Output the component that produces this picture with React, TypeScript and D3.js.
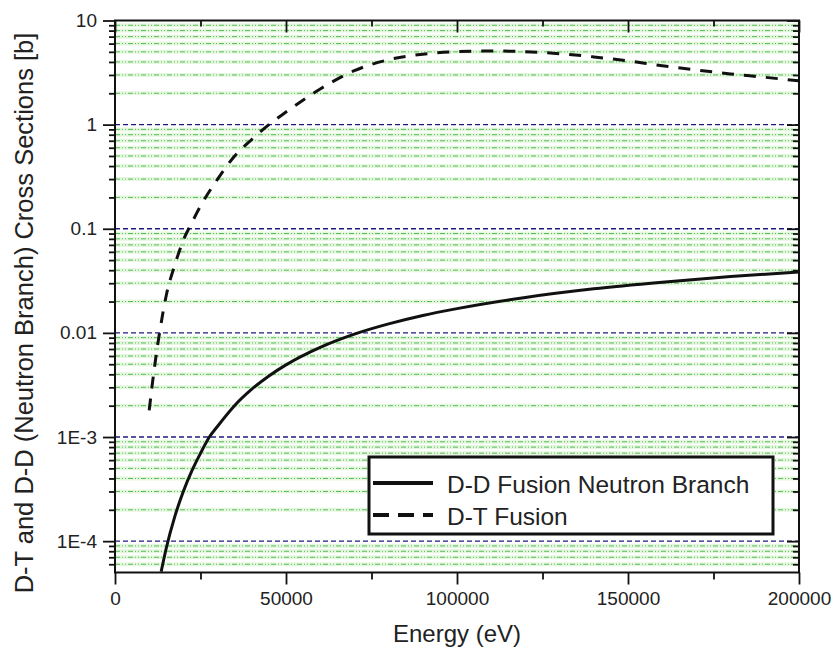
import React, { useRef, useEffect } from "react";
import * as d3 from "d3";

// D-T fusion cross section [b] vs deuteron energy [eV]
const dtEnergy = [10000, 11000, 12000, 13000, 14000, 15000, 17500, 20000, 22500, 25000, 30000, 35000, 40000, 45000, 50000, 60000, 70000, 80000, 90000, 100000, 110000, 120000, 130000, 140000, 150000, 160000, 170000, 180000, 190000, 200000];
const dtSigma = [0.0018, 0.0034, 0.006, 0.0099, 0.0155, 0.023, 0.045, 0.078, 0.115, 0.165, 0.3, 0.5, 0.72, 1.0, 1.32, 2.2, 3.3, 4.2, 4.75, 5.02, 5.1, 5.02, 4.8, 4.47, 4.1, 3.68, 3.35, 3.07, 2.85, 2.63];

// D-D fusion, neutron branch
const ddEnergy = [13500, 15000, 17500, 20000, 22500, 25000, 27500, 30000, 35000, 40000, 45000, 50000, 60000, 70000, 80000, 90000, 100000, 120000, 140000, 160000, 180000, 200000];
const ddSigma = [0.000051, 0.000086, 0.000173, 0.000302, 0.000476, 0.000698, 0.00099, 0.00127, 0.00201, 0.00288, 0.00386, 0.00493, 0.00726, 0.00973, 0.0122, 0.0147, 0.0171, 0.0219, 0.0265, 0.0307, 0.0348, 0.0385];

const xMajor = [0, 50000, 100000, 150000, 200000];
const xMinor = [25000, 75000, 125000, 175000];
const yMajor = [10, 1, 0.1, 0.01, 0.001, 0.0001];
const yLabels = ["10", "1", "0.1", "0.01", "1E-3", "1E-4"];

const legendItems = ["D-D Fusion Neutron Branch", "D-T Fusion"];

const W = 839;
const H = 656;
const m = { left: 115, right: 40, top: 20.5, bottom: 83.5 };
const FONT = "'Liberation Sans', Arial, sans-serif";

const App = () => {
  const svgRef = useRef(null);

  useEffect(() => {
    const svg = d3.select(svgRef.current);
    svg.selectAll("*").remove();

    const x = d3.scaleLinear().domain([0, 200000]).range([m.left, W - m.right]);
    const y = d3.scaleLog().domain([5e-5, 10]).range([H - m.bottom, m.top]);

    // minor log values
    const yMinor: number[] = [];
    for (let e = -5; e <= 0; e++) {
      for (let k = 2; k <= 9; k++) {
        const v = k * Math.pow(10, e);
        if (v > 5e-5 && v < 10) yMinor.push(v);
      }
    }

    const x0 = m.left;
    const x1 = W - m.right;

    // minor grid
    const gMinor = svg.append("g");
    gMinor
      .selectAll("line.halo")
      .data(yMinor)
      .enter()
      .append("line")
      .attr("x1", x0)
      .attr("x2", x1)
      .attr("y1", (d) => y(d))
      .attr("y2", (d) => y(d))
      .attr("stroke", "#e5f7de")
      .attr("stroke-width", 4);
    gMinor
      .selectAll("line.dot")
      .data(yMinor)
      .enter()
      .append("line")
      .attr("x1", x0)
      .attr("x2", x1)
      .attr("y1", (d) => y(d))
      .attr("y2", (d) => y(d))
      .attr("stroke", "#55bb55")
      .attr("stroke-width", 1)
      .attr("stroke-dasharray", "5,2,1,2,1,2");

    // major grid
    svg
      .append("g")
      .selectAll("line")
      .data(yMajor.slice(1))
      .enter()
      .append("line")
      .attr("x1", x0)
      .attr("x2", x1)
      .attr("y1", (d) => y(d))
      .attr("y2", (d) => y(d))
      .attr("stroke", "#1c1c80")
      .attr("stroke-width", 1.4)
      .attr("stroke-dasharray", "5,3");

    // curves
    const line = d3
      .line<[number, number]>()
      .x((d) => x(d[0]))
      .y((d) => y(d[1]))
      .curve(d3.curveMonotoneX);

    svg
      .append("clipPath")
      .attr("id", "plotclip")
      .append("rect")
      .attr("x", x0)
      .attr("y", m.top)
      .attr("width", x1 - x0)
      .attr("height", H - m.bottom - m.top);

    const gCurves = svg.append("g").attr("clip-path", "url(#plotclip)");
    gCurves
      .append("path")
      .attr("d", line(ddEnergy.map((e, i) => [e, ddSigma[i]])))
      .attr("fill", "none")
      .attr("stroke", "#111")
      .attr("stroke-width", 3);
    gCurves
      .append("path")
      .attr("d", line(dtEnergy.map((e, i) => [e, dtSigma[i]])))
      .attr("fill", "none")
      .attr("stroke", "#111")
      .attr("stroke-width", 3)
      .attr("stroke-dasharray", "12,10");

    // axes
    const styleAxis = (g) => {
      g.select(".domain").remove();
      g.selectAll(".tick line").attr("stroke", "#111").attr("stroke-width", 1.8);
      g.selectAll("text").attr("font-family", FONT).attr("font-size", 19).attr("fill", "#222");
    };

    const yb = H - m.bottom;

    svg
      .append("g")
      .attr("transform", `translate(${x0},0)`)
      .call(d3.axisLeft(y).tickValues(yMajor).tickSize(12).tickPadding(6).tickFormat((d, i) => yLabels[i]))
      .call(styleAxis);
    svg
      .append("g")
      .attr("transform", `translate(${x0},0)`)
      .call(d3.axisLeft(y).tickValues(yMinor).tickSize(6).tickFormat(() => ""))
      .call(styleAxis);
    svg
      .append("g")
      .attr("transform", `translate(${x1},0)`)
      .call(d3.axisRight(y).tickValues(yMajor).tickSize(-12).tickFormat(() => ""))
      .call(styleAxis);
    svg
      .append("g")
      .attr("transform", `translate(${x1},0)`)
      .call(d3.axisRight(y).tickValues(yMinor).tickSize(-6).tickFormat(() => ""))
      .call(styleAxis);

    svg
      .append("g")
      .attr("transform", `translate(0,${yb})`)
      .call(d3.axisBottom(x).tickValues(xMajor).tickSize(12).tickPadding(7).tickFormat(d3.format("d")))
      .call(styleAxis);
    svg
      .append("g")
      .attr("transform", `translate(0,${yb})`)
      .call(d3.axisBottom(x).tickValues(xMinor).tickSize(7).tickFormat(() => ""))
      .call(styleAxis);
    svg
      .append("g")
      .attr("transform", `translate(0,${m.top})`)
      .call(d3.axisTop(x).tickValues(xMajor).tickSize(-12).tickFormat(() => ""))
      .call(styleAxis);
    svg
      .append("g")
      .attr("transform", `translate(0,${m.top})`)
      .call(d3.axisTop(x).tickValues(xMinor).tickSize(-6).tickFormat(() => ""))
      .call(styleAxis);

    // frame
    svg
      .append("rect")
      .attr("x", x0)
      .attr("y", m.top)
      .attr("width", x1 - x0)
      .attr("height", yb - m.top)
      .attr("fill", "none")
      .attr("stroke", "#111")
      .attr("stroke-width", 2);

    // legend
    const lg = svg.append("g").attr("transform", "translate(369,457)");
    lg.append("rect")
      .attr("width", 404)
      .attr("height", 77)
      .attr("fill", "white")
      .attr("stroke", "#111")
      .attr("stroke-width", 3);
    legendItems.forEach((name, i) => {
      const yy = 26 + i * 32;
      lg.append("line")
        .attr("x1", 4)
        .attr("x2", 64)
        .attr("y1", yy)
        .attr("y2", yy)
        .attr("stroke", "#111")
        .attr("stroke-width", 4)
        .attr("stroke-dasharray", i === 1 ? "16,9" : null);
      lg.append("text")
        .attr("x", 78)
        .attr("y", yy + 10)
        .attr("font-family", FONT)
        .attr("font-size", 24.5)
        .attr("fill", "#222")
        .text(name);
    });

    // axis titles
    svg
      .append("text")
      .attr("x", (x0 + x1) / 2)
      .attr("y", 642)
      .attr("text-anchor", "middle")
      .attr("font-family", FONT)
      .attr("font-size", 24)
      .attr("fill", "#222")
      .text("Energy (eV)");
    svg
      .append("text")
      .attr("transform", "translate(33,313) rotate(-90)")
      .attr("text-anchor", "middle")
      .attr("font-family", FONT)
      .attr("font-size", 25.5)
      .attr("fill", "#222")
      .text("D-T and D-D (Neutron Branch) Cross Sections [b]");
  });

  return (
    <div>
      <svg
        ref={svgRef}
        width={W}
        height={H}
        style={{ position: "absolute", left: 0, top: 0, background: "white" }}
      ></svg>
    </div>
  );
};

export default App;
